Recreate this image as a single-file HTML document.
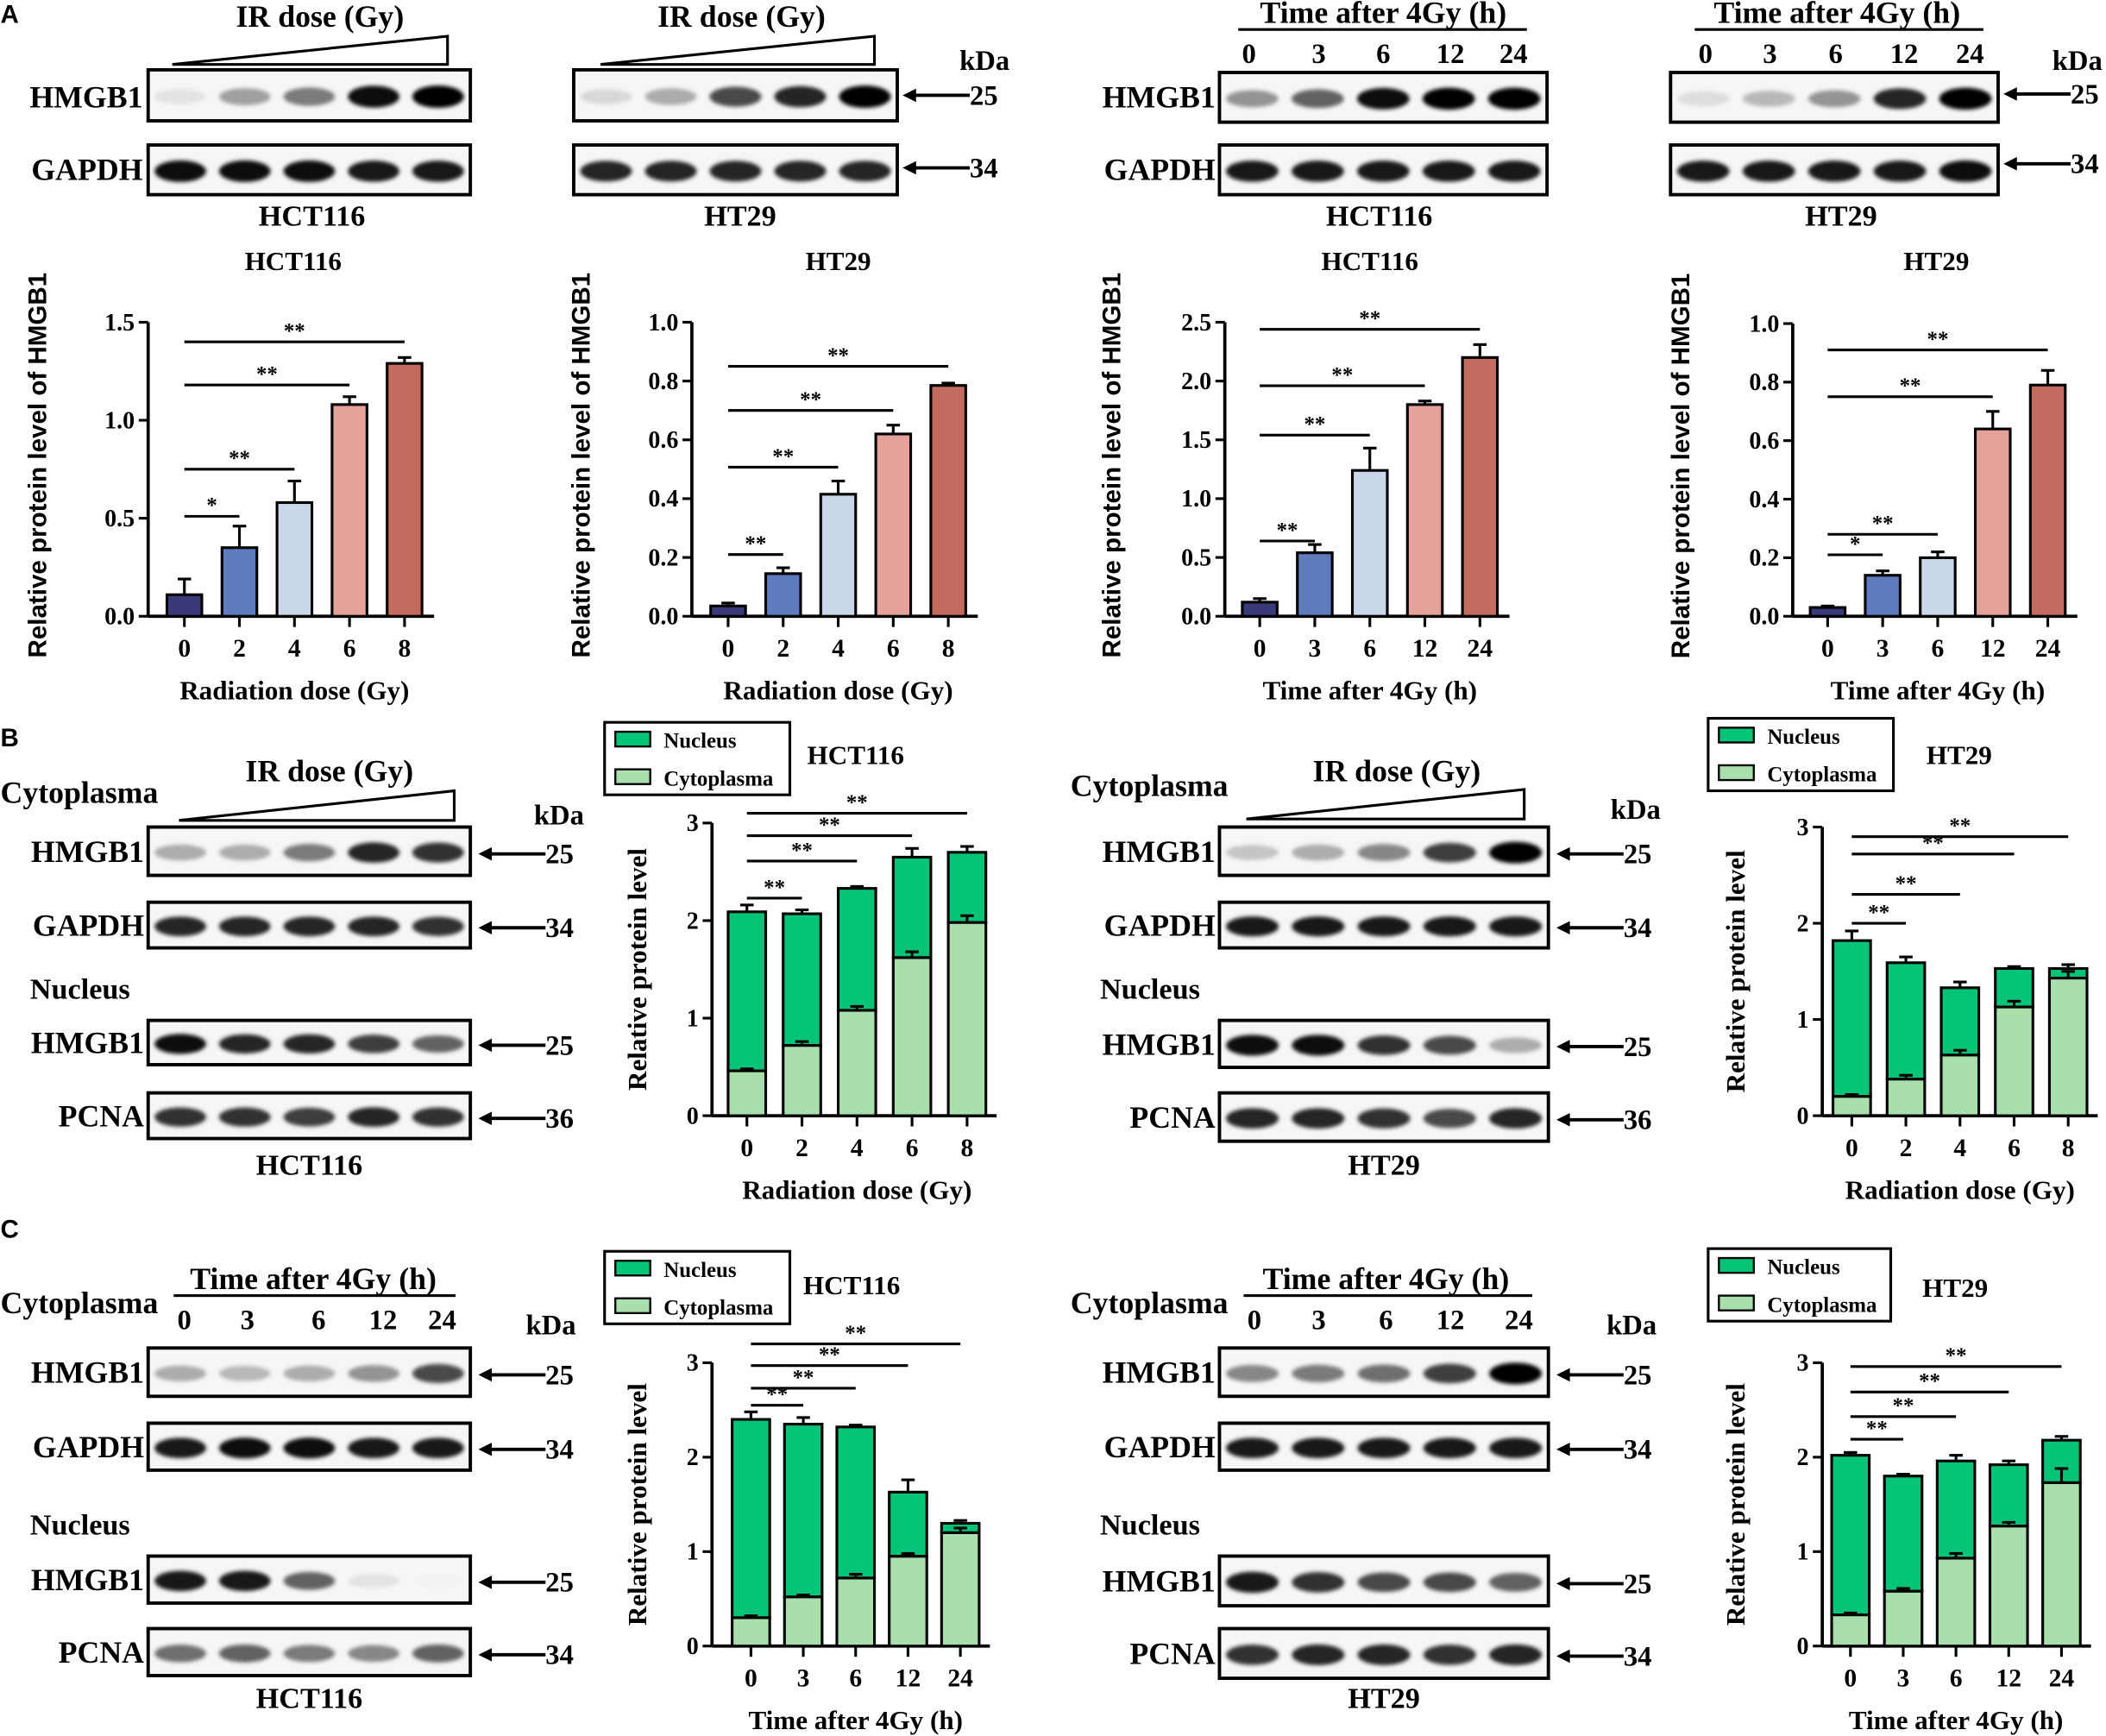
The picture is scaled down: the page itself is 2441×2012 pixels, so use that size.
<!DOCTYPE html>
<html><head><meta charset="utf-8"><style>
html,body{margin:0;padding:0;background:#fff;}
svg{display:block;}
text{font-family:"Liberation Serif",serif;font-weight:bold;fill:#000;}
.sans{font-family:"Liberation Sans",sans-serif;}
</style></head><body>
<svg id="fig" xmlns="http://www.w3.org/2000/svg" width="2441" height="2012" viewBox="0 0 1568 1293">
<defs><filter id="blur" x="-30%" y="-60%" width="160%" height="220%"><feGaussianBlur stdDeviation="1.6"/></filter></defs>
</svg>
<script>
// ===== Panel A bar chart data =====
const aCategories1 = ["0","2","4","6","8"];
const aCategories2 = ["0","3","6","12","24"];
const a1Values = [0.11, 0.35, 0.58, 1.08, 1.29];
const a1Errors = [0.08, 0.11, 0.11, 0.04, 0.03];
const a1Ticks = ["0.0","0.5","1.0","1.5"];
const a2Values = [0.035, 0.145, 0.415, 0.62, 0.785];
const a2Errors = [0.01, 0.02, 0.045, 0.03, 0.008];
const a2Ticks = ["0.0","0.2","0.4","0.6","0.8","1.0"];
const a3Values = [0.12, 0.54, 1.24, 1.80, 2.20];
const a3Errors = [0.03, 0.07, 0.19, 0.03, 0.11];
const a3Ticks = ["0.0","0.5","1.0","1.5","2.0","2.5"];
const a4Values = [0.03, 0.14, 0.20, 0.64, 0.79];
const a4Errors = [0.005, 0.015, 0.02, 0.06, 0.05];
const a4Ticks = ["0.0","0.2","0.4","0.6","0.8","1.0"];
const a1Sig = [[0,1,0.51,"*"],[0,2,0.75,"**"],[0,3,1.18,"**"],[0,4,1.40,"**"]];
const a2Sig = [[0,1,0.21,"**"],[0,2,0.507,"**"],[0,3,0.70,"**"],[0,4,0.85,"**"]];
const a3Sig = [[0,1,0.64,"**"],[0,2,1.54,"**"],[0,3,1.96,"**"],[0,4,2.44,"**"]];
const a4Sig = [[0,1,0.21,"*"],[0,2,0.28,"**"],[0,3,0.75,"**"],[0,4,0.91,"**"]];
// ===== Stacked chart data =====
const stackTicks = ["0","1","2","3"];
const bLCyt = [0.46, 0.72, 1.08, 1.62, 1.98];
const bLCytErr = [0.02, 0.04, 0.04, 0.06, 0.07];
const bLTot = [2.09, 2.07, 2.33, 2.65, 2.70];
const bLTotErr = [0.07, 0.04, 0.02, 0.09, 0.06];
const bLSig = [[0,1,2.23,"**"],[0,2,2.61,"**"],[0,3,2.87,"**"],[0,4,3.10,"**"]];
const bRCyt = [0.20, 0.38, 0.63, 1.13, 1.43];
const bRCytErr = [0.02, 0.04, 0.05, 0.06, 0.07];
const bRTot = [1.82, 1.59, 1.33, 1.53, 1.53];
const bRTotErr = [0.10, 0.06, 0.06, 0.02, 0.04];
const bRSig = [[0,1,2.0,"**"],[0,2,2.3,"**"],[0,3,2.72,"**"],[0,4,2.9,"**"]];
const cLCyt = [0.30, 0.52, 0.72, 0.95, 1.20];
const cLCytErr = [0.02, 0.02, 0.04, 0.03, 0.05];
const cLTot = [2.40, 2.35, 2.32, 1.63, 1.30];
const cLTotErr = [0.08, 0.07, 0.02, 0.13, 0.03];
const cLSig = [[0,1,2.55,"**"],[0,2,2.73,"**"],[0,3,2.97,"**"],[0,4,3.2,"**"]];
const cRCyt = [0.33, 0.58, 0.93, 1.27, 1.73];
const cRCytErr = [0.02, 0.03, 0.05, 0.04, 0.15];
const cRTot = [2.02, 1.80, 1.96, 1.92, 2.18];
const cRTotErr = [0.03, 0.02, 0.06, 0.04, 0.04];
const cRSig = [[0,1,2.19,"**"],[0,2,2.43,"**"],[0,3,2.69,"**"],[0,4,2.96,"**"]];
// ===== Blot band intensities =====
const blotA1 = [[0.08,0.35,0.5,0.95,1],[0.95,0.95,0.95,0.9,0.9]];
const blotA2 = [[0.12,0.3,0.7,0.85,1],[0.85,0.85,0.85,0.85,0.85]];
const blotA3 = [[0.4,0.6,0.95,1,1],[0.9,0.9,0.9,0.9,0.9]];
const blotA4 = [[0.1,0.25,0.4,0.85,1],[0.9,0.9,0.9,0.9,0.95]];
const blotBL = [[0.3,0.3,0.5,0.85,0.8],[0.85,0.85,0.85,0.85,0.8],[0.95,0.85,0.85,0.75,0.6],[0.8,0.8,0.75,0.85,0.8]];
const blotBR = [[0.2,0.3,0.45,0.75,1],[0.9,0.9,0.9,0.9,0.9],[0.95,0.95,0.8,0.7,0.3],[0.85,0.85,0.8,0.7,0.85]];
const blotCL = [[0.3,0.25,0.3,0.4,0.7],[0.9,0.95,0.95,0.9,0.9],[0.9,0.9,0.6,0.08,0.01],[0.55,0.6,0.5,0.45,0.6]];
const blotCR = [[0.45,0.5,0.55,0.75,1],[0.9,0.9,0.9,0.9,0.9],[0.9,0.8,0.7,0.7,0.6],[0.8,0.85,0.85,0.8,0.85]];

const NS = "http://www.w3.org/2000/svg";
const svg = document.getElementById("fig");
function mk(tag, attrs, parent){
  const e = document.createElementNS(NS, tag);
  for (const k in attrs) e.setAttribute(k, attrs[k]);
  (parent||svg).appendChild(e);
  return e;
}
function txt(x,y,s,size,anchor,name,cls){
  const t = mk("text",{x:x,y:y,"font-size":size,"text-anchor":anchor||"middle"});
  if (cls) t.setAttribute("class", cls);
  t.textContent = s;
  
  
  return t;
}
function line(x1,y1,x2,y2,w,name){
  const l = mk("line",{x1:x1,y1:y1,x2:x2,y2:y2,stroke:"#000","stroke-width":w});
  
  
  return l;
}

const aColors = ["#3b3a78","#5d7bbd","#cad6ea","#e4a29a","#c26b5e"];

function axes(c, ticks, maxVal, cats, prefix){
  const yS = v => c.y0 - v/maxVal*(c.y0-c.yTop);
  const xS = i => c.x1 + i*c.step;
  line(c.ax, c.yTop, c.ax, c.y0, 2.4, prefix+'-y-axis');
  line(c.ax, c.y0, xS(cats.length-1)+22, c.y0, 2.4, prefix+'-x-axis');
  ticks.forEach((t,i)=>{
    const v = maxVal*i/(ticks.length-1);
    line(c.ax-7, yS(v), c.ax, yS(v), 2, prefix+'-y-tick');
    txt(c.ax-10, yS(v)+6, t, 18, "end", prefix+'-y-tick-label');
  });
  cats.forEach((t,i)=>{
    line(xS(i), c.y0, xS(i), c.y0+8, 2, prefix+'-x-tick');
    txt(xS(i), c.y0+30, t, 19, "middle", prefix+'-x-tick-label');
  });
  return {yS, xS};
}
function sig(c, s, yS, xS, prefix){
  s.forEach(b=>{
    const y = yS(b[2]);
    line(xS(b[0]), y, xS(b[1]), y, 2, prefix+'-significance-line');
    txt((xS(b[0])+xS(b[1]))/2, y-3, b[3], 16, "middle", prefix+'-significance-stars');
  });
}
function errBar(x, top, e, yS, name){
  line(x, yS(top), x, yS(top+e), 2, name);
  line(x-5, yS(top+e), x+5, yS(top+e), 2, name+'-cap');
}
function barChart(c, vals, errs, ticks, maxVal, cats, sigs, prefix){
  const {yS, xS} = axes(c, ticks, maxVal, cats, prefix);
  vals.forEach((v,i)=>{
    errBar(xS(i), v, errs[i], yS, prefix+'-error-bar');
    const r = mk("rect",{x:xS(i)-13, y:yS(v), width:26, height:c.y0-yS(v), fill:aColors[i], stroke:"#000","stroke-width":2});
    
    
  });
  sig(c, sigs, yS, xS, prefix);
  txt(c.tx, c.ty, c.title, 20, "middle", prefix+'-title');
  const yt = txt(0,0,"Relative protein level of HMGB1",19,"middle",prefix+'-y-axis-title',"sans");
  yt.setAttribute("transform","translate("+c.ytx+","+((c.y0+c.yTop)/2-3)+") rotate(-90)");
  txt((xS(0)+xS(4))/2, c.y0+62, c.xtitle, 20, "middle", prefix+'-x-axis-title');
}
function stackChart(c, cyt, cytE, tot, totE, sigs, cats, prefix){
  const {yS, xS} = axes(c, stackTicks, 3, cats, prefix);
  cyt.forEach((v,i)=>{
    errBar(xS(i), tot[i], totE[i], yS, prefix+'-total-error-bar');
    const r1 = mk("rect",{x:xS(i)-14, y:yS(tot[i]), width:28, height:yS(v)-yS(tot[i]), fill:"#06c477", stroke:"#000","stroke-width":2});
    
    
    const r2 = mk("rect",{x:xS(i)-14, y:yS(v), width:28, height:c.y0-yS(v), fill:"#a9dfad", stroke:"#000","stroke-width":2});
    
    
    errBar(xS(i), v, cytE[i], yS, prefix+'-cytoplasm-error-bar');
  });
  sig(c, sigs, yS, xS, prefix);
  const yt = txt(0,0,"Relative protein level",20,"middle",prefix+'-y-axis-title');
  yt.setAttribute("transform","translate("+c.ytx+","+((c.y0+c.yTop)/2)+") rotate(-90)");
  txt((xS(0)+xS(4))/2, c.y0+62, c.xtitle, 20, "middle", prefix+'-x-axis-title');
  txt(c.tx, c.ty, c.title, 20, "middle", prefix+'-title');
  const lg = mk("rect",{x:c.lx,y:c.ly,width:c.lw,height:54,fill:"#fff",stroke:"#000","stroke-width":2});
  
  
  const s1 = mk("rect",{x:c.lx+8,y:c.ly+7,width:26,height:11,fill:"#06c477",stroke:"#000","stroke-width":1.5});
  
  
  const s2 = mk("rect",{x:c.lx+8,y:c.ly+35,width:26,height:11,fill:"#a9dfad",stroke:"#000","stroke-width":1.5});
  
  
  txt(c.lx+44,c.ly+19,"Nucleus",16,"start",prefix+'-legend-nucleus');
  txt(c.lx+44,c.ly+47,"Cytoplasma",16,"start",prefix+'-legend-cytoplasma');
}

barChart({ax:110,x1:137,step:41,y0:459,yTop:240,tx:218,ty:201,ytx:34,title:"HCT116",xtitle:"Radiation dose (Gy)"},a1Values,a1Errors,a1Ticks,1.5,aCategories1,a1Sig,"a-hct116-dose");
barChart({ax:515,x1:542,step:41,y0:459,yTop:240,tx:624,ty:201,ytx:439,title:"HT29",xtitle:"Radiation dose (Gy)"},a2Values,a2Errors,a2Ticks,1.0,aCategories1,a2Sig,"a-ht29-dose");
barChart({ax:912,x1:938,step:41,y0:459,yTop:240,tx:1020,ty:201,ytx:834,title:"HCT116",xtitle:"Time after 4Gy (h)"},a3Values,a3Errors,a3Ticks,2.5,aCategories2,a3Sig,"a-hct116-time");
barChart({ax:1335,x1:1361,step:41,y0:459,yTop:241,tx:1442,ty:201,ytx:1258,title:"HT29",xtitle:"Time after 4Gy (h)"},a4Values,a4Errors,a4Ticks,1.0,aCategories2,a4Sig,"a-ht29-time");
stackChart({ax:530,x1:556,step:41,y0:831,yTop:613,ytx:481,tx:637,ty:569,lx:450,ly:538,lw:138,title:"HCT116",xtitle:"Radiation dose (Gy)"},bLCyt,bLCytErr,bLTot,bLTotErr,bLSig,aCategories1,"b-hct116");
stackChart({ax:1357,x1:1379,step:40.3,y0:831,yTop:616,ytx:1299,tx:1459,ty:569,lx:1272,ly:535,lw:138,title:"HT29",xtitle:"Radiation dose (Gy)"},bRCyt,bRCytErr,bRTot,bRTotErr,bRSig,aCategories1,"b-ht29");
stackChart({ax:530,x1:559,step:39,y0:1226,yTop:1015,ytx:481,tx:634,ty:964,lx:450,ly:932,lw:138,title:"HCT116",xtitle:"Time after 4Gy (h)"},cLCyt,cLCytErr,cLTot,cLTotErr,cLSig,aCategories2,"c-hct116");
stackChart({ax:1357,x1:1378,step:39.3,y0:1226,yTop:1015,ytx:1299,tx:1456,ty:966,lx:1272,ly:930,lw:136,title:"HT29",xtitle:"Time after 4Gy (h)"},cRCyt,cRCytErr,cRTot,cRTotErr,cRSig,aCategories2,"c-ht29");

// ===== Blots =====
function blotBox(x1,x2,y1,y2,ints,name){
  const r = mk("rect",{x:x1,y:y1,width:x2-x1,height:y2-y1,fill:"#f6f6f6",stroke:"#000","stroke-width":2.5});
  
  
  const w = (x2-x1)/5;
  ints.forEach((v,i)=>{
    const e = mk("ellipse",{cx:x1+w*(i+0.5),cy:(y1+y2)/2+1,rx:w*0.4,ry:(y2-y1)*0.14+v*3,fill:"#000","fill-opacity":v,filter:"url(#blur)"});
    
    
  });
}
function arrow(x,y,label,name){
  line(x+6,y,x+50,y,2.5,name+'-arrow');
  const p = mk("path",{d:"M"+x+" "+y+" l10 -5 l0 10z",fill:"#000"});
  
  
  txt(x+50,y+7,label,21,"start",name+'-kda-label');
}
function wedge(x1,x2,yb,h,name){
  const p = mk("path",{d:"M"+x1+" "+yb+" L"+x2+" "+(yb-h)+" L"+x2+" "+yb+" Z",fill:"#fff",stroke:"#000","stroke-width":2});
  
  
}
function timeHeader(cx,xs,ty,name){
  txt(cx,ty,"Time after 4Gy (h)",23,"middle",name+'-title');
  line(xs[0]-8,ty+5,xs[4]+10,ty+5,2,name+'-underline');
  aCategories2.forEach((c,i)=>txt(xs[i],ty+30,c,21,"middle",name+'-lane-label'));
}

txt(0,17,"A",19,"start","panel-label-a","sans");
txt(0,556,"B",19,"start","panel-label-b","sans");
txt(0,922,"C",19,"start","panel-label-c","sans");

txt(238,20,"IR dose (Gy)",23,"middle","a-blot1-ir-dose");
wedge(128,333,48,21,"a-blot1-dose-wedge");
blotBox(110,350,52,90,blotA1[0],"a-blot1-hmgb1");
blotBox(110,350,108,145,blotA1[1],"a-blot1-gapdh");
txt(106,80,"HMGB1",23,"end","a-blot1-hmgb1-label");
txt(106,134,"GAPDH",23,"end","a-blot1-gapdh-label");
txt(232,168,"HCT116",22,"middle","a-blot1-cell-line");

txt(552,20,"IR dose (Gy)",23,"middle","a-blot2-ir-dose");
wedge(447,651,48,21,"a-blot2-dose-wedge");
blotBox(427,668,52,90,blotA2[0],"a-blot2-hmgb1");
blotBox(427,668,108,145,blotA2[1],"a-blot2-gapdh");
txt(733,52,"kDa",21,"middle","a-blot2-kda");
arrow(672,71,"25","a-blot2-25");
arrow(672,125,"34","a-blot2-34");
txt(551,168,"HT29",22,"middle","a-blot2-cell-line");

timeHeader(1030,[930,982,1030,1080,1127],17,"a-blot3-time");
blotBox(908,1152,54,91,blotA3[0],"a-blot3-hmgb1");
blotBox(908,1152,108,145,blotA3[1],"a-blot3-gapdh");
txt(905,80,"HMGB1",23,"end","a-blot3-hmgb1-label");
txt(905,134,"GAPDH",23,"end","a-blot3-gapdh-label");
txt(1027,168,"HCT116",22,"middle","a-blot3-cell-line");

timeHeader(1368,[1270,1318,1367,1418,1467],17,"a-blot4-time");
blotBox(1244,1488,54,91,blotA4[0],"a-blot4-hmgb1");
blotBox(1244,1488,108,145,blotA4[1],"a-blot4-gapdh");
txt(1547,52,"kDa",21,"middle","a-blot4-kda");
arrow(1492,70,"25","a-blot4-25");
arrow(1492,122,"34","a-blot4-34");
txt(1371,168,"HT29",22,"middle","a-blot4-cell-line");

function blotGroup(x0,x1,x2,rows,ints,labels,nums,headY,cell,cellY,name){
  txt(x0,headY,"Cytoplasma",23,"start",name+'-cytoplasma-label');
  txt(x0+22,rows[2][0]-16,"Nucleus",22,"start",name+'-nucleus-label');
  rows.forEach((r,i)=>{
    blotBox(x1,x2,r[0],r[1],ints[i],name+'-row'+i);
    txt(x1-3,(r[0]+r[1])/2+8,labels[i],23,"end",name+'-row-label');
    arrow(x2+6,(r[0]+r[1])/2+2,nums[i],name+'-row'+i);
  });
  txt((x1+x2)/2,cellY,cell,22,"middle",name+'-cell-line');
}
txt(245,582,"IR dose (Gy)",23,"middle","b-left-ir-dose");
wedge(133,338,611,22,"b-left-dose-wedge");
txt(416,614,"kDa",21,"middle","b-left-kda");
blotGroup(0,110,350,[[616,652],[672,706],[760,793],[814,848]],blotBL,["HMGB1","GAPDH","HMGB1","PCNA"],["25","34","25","36"],598,"HCT116",875,"b-left");

txt(1040,582,"IR dose (Gy)",23,"middle","b-right-ir-dose");
wedge(928,1135,610,22,"b-right-dose-wedge");
txt(1218,610,"kDa",21,"middle","b-right-kda");
blotGroup(797,908,1153,[[616,652],[672,706],[760,795],[814,850]],blotBR,["HMGB1","GAPDH","HMGB1","PCNA"],["25","34","25","36"],593,"HT29",875,"b-right");

timeHeader(233,[137,184,237,285,329],960,"c-left-time");
txt(410,994,"kDa",21,"middle","c-left-kda");
blotGroup(0,110,350,[[1004,1040],[1060,1095],[1159,1194],[1213,1248]],blotCL,["HMGB1","GAPDH","HMGB1","PCNA"],["25","34","25","34"],978,"HCT116",1272,"c-left");

timeHeader(1032,[934,982,1032,1080,1131],960,"c-right-time");
txt(1215,994,"kDa",21,"middle","c-right-kda");
blotGroup(797,908,1153,[[1004,1040],[1060,1095],[1159,1196],[1213,1250]],blotCR,["HMGB1","GAPDH","HMGB1","PCNA"],["25","34","25","34"],978,"HT29",1272,"c-right");
</script>
</body></html>
